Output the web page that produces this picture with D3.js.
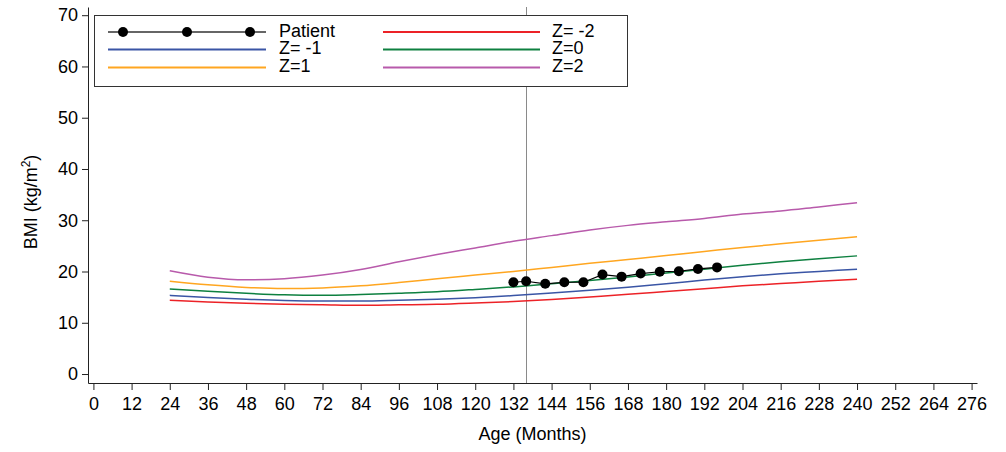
<!DOCTYPE html>
<html>
<head>
<meta charset="utf-8">
<script src="https://cdn.jsdelivr.net/npm/d3@7"></script>
<style>
  html, body { margin: 0; padding: 0; background: #fff; }
  svg { display: block; font-family: "Liberation Sans", Arial, sans-serif; }
</style>
</head>
<body>
<svg id="chart" width="1006" height="452"></svg>
<script>
// ---- Data ----
const refAges = [24, 36, 48, 60, 72, 84, 96, 108, 120, 132, 144, 156, 168, 180, 192, 204, 216, 228, 240];
const zMinus2 = [14.4, 14.05, 13.8, 13.6, 13.5, 13.4, 13.5, 13.6, 13.85, 14.15, 14.55, 15.05, 15.55, 16.1, 16.65, 17.2, 17.65, 18.1, 18.5];
const zMinus1 = [15.35, 14.95, 14.6, 14.35, 14.25, 14.25, 14.4, 14.6, 14.9, 15.3, 15.8, 16.35, 16.95, 17.6, 18.35, 19.0, 19.55, 20.0, 20.45];
const zZero   = [16.6, 16.15, 15.75, 15.45, 15.35, 15.5, 15.75, 16.05, 16.5, 17.0, 17.6, 18.25, 18.95, 19.7, 20.45, 21.2, 21.9, 22.5, 23.05];
const zPlus1  = [18.1, 17.4, 16.9, 16.7, 16.8, 17.2, 17.85, 18.6, 19.3, 20.0, 20.8, 21.6, 22.35, 23.1, 23.9, 24.7, 25.4, 26.1, 26.8];
const zPlus2  = [20.15, 18.9, 18.4, 18.6, 19.3, 20.4, 21.9, 23.3, 24.6, 25.9, 27.0, 28.1, 29.0, 29.7, 30.35, 31.2, 31.8, 32.6, 33.4];

const patientAges = [132, 136, 142, 148, 154, 160, 166, 172, 178, 184, 190, 196];
const patientBMI  = [17.9, 18.1, 17.6, 17.9, 17.9, 19.4, 19.0, 19.6, 19.95, 20.05, 20.5, 20.8];

const currentAge = 136;

const xTickLabels = d3.range(0, 277, 12);
const yTickLabels = d3.range(0, 71, 10);

const seriesNames  = ["Z= -2", "Z= -1", "Z=0", "Z=1", "Z=2"];
const seriesValues = [zMinus2, zMinus1, zZero, zPlus1, zPlus2];
const seriesColors = ["#ec2227", "#3a55a5", "#0e8040", "#ffa620", "#b85aab"];

// ---- Layout ----
const svg = d3.select("#chart");
const x = d3.scaleLinear().domain([-1.7, 277.7]).range([88, 977]);
const y = d3.scaleLinear().domain([-1.75, 71.6]).range([383, 7]);
const axisColor = "#222";

// axes
const gx = svg.append("g").attr("transform", "translate(0,383)");
gx.call(d3.axisBottom(x).tickValues(d3.range(6, 277, 12)).tickSize(4).tickSizeOuter(0).tickFormat(""));
gx.call(d3.axisBottom(x).tickValues(xTickLabels).tickSize(7).tickSizeOuter(0).tickPadding(7));
gx.selectAll("text").attr("font-size", 18).attr("fill", "#000").attr("font-family", "Liberation Sans, Arial, sans-serif");
gx.selectAll("path, line").attr("stroke", axisColor);

const gy = svg.append("g").attr("transform", "translate(88,0)");
gy.call(d3.axisLeft(y).tickValues(d3.range(0, 71, 2)).tickSize(3.5).tickSizeOuter(0).tickFormat(""));
gy.call(d3.axisLeft(y).tickValues(yTickLabels).tickSize(6).tickSizeOuter(0).tickPadding(4));
gy.selectAll("text").attr("font-size", 18).attr("fill", "#000").attr("font-family", "Liberation Sans, Arial, sans-serif");
gy.selectAll("path, line").attr("stroke", axisColor);

// axis titles
svg.append("text")
  .attr("x", (x.range()[0] + x.range()[1]) / 2).attr("y", 440)
  .attr("text-anchor", "middle").attr("font-size", 18).text("Age (Months)");

const yt = svg.append("text")
  .attr("transform", "translate(37,202) rotate(-90)")
  .attr("text-anchor", "middle").attr("font-size", 18);
yt.append("tspan").text("BMI (kg/m");
yt.append("tspan").attr("font-size", 12).attr("dy", -7).text("2");
yt.append("tspan").attr("dy", 7).text(")");

// current age vertical line
svg.append("line")
  .attr("x1", Math.round(x(currentAge)) + 0.5).attr("x2", Math.round(x(currentAge)) + 0.5)
  .attr("y1", y.range()[1]).attr("y2", y.range()[0])
  .attr("stroke", "#8a8a8a").attr("stroke-width", 1);

// reference curves
const line = d3.line().x(d => x(d[0])).y(d => y(d[1])).curve(d3.curveMonotoneX);
seriesValues.forEach((vals, i) => {
  svg.append("path")
    .datum(refAges.map((a, j) => [a, vals[j]]))
    .attr("d", line)
    .attr("fill", "none")
    .attr("stroke", seriesColors[i])
    .attr("stroke-width", 1.5);
});

// patient
const pdata = patientAges.map((a, j) => [a, patientBMI[j]]);
svg.append("path")
  .datum(pdata)
  .attr("d", d3.line().x(d => x(d[0])).y(d => y(d[1])))
  .attr("fill", "none").attr("stroke", "#000").attr("stroke-width", 1.2);
svg.selectAll("circle.pt").data(pdata).enter().append("circle")
  .attr("class", "pt")
  .attr("cx", d => x(d[0])).attr("cy", d => y(d[1])).attr("r", 5)
  .attr("fill", "#000");

// legend
const lg = svg.append("g");
lg.append("rect").attr("x", 94.5).attr("y", 15.5).attr("width", 533).attr("height", 71)
  .attr("fill", "#fff").attr("stroke", "#333").attr("stroke-width", 1);

const rowY = [32, 49.5, 67.5];
const colLine = [[108, 266], [383, 540]];
const colText = [279, 552];
const legendItems = [
  { name: "Patient", color: "#000", patient: true, col: 0, row: 0 },
  { name: seriesNames[0], color: seriesColors[0], col: 1, row: 0 },
  { name: seriesNames[1], color: seriesColors[1], col: 0, row: 1 },
  { name: seriesNames[2], color: seriesColors[2], col: 1, row: 1 },
  { name: seriesNames[3], color: seriesColors[3], col: 0, row: 2 },
  { name: seriesNames[4], color: seriesColors[4], col: 1, row: 2 }
];
legendItems.forEach(it => {
  const yy = rowY[it.row];
  const [x1, x2] = colLine[it.col];
  lg.append("line").attr("x1", x1).attr("x2", x2).attr("y1", yy).attr("y2", yy)
    .attr("stroke", it.patient ? "#333" : it.color).attr("stroke-width", it.patient ? 1.5 : 2.2);
  if (it.patient) {
    [123, 187, 250].forEach(cx => lg.append("circle").attr("cx", cx).attr("cy", yy).attr("r", 5).attr("fill", "#000"));
  }
  lg.append("text").attr("x", colText[it.col]).attr("y", yy + 4.5)
    .attr("font-size", 18).attr("fill", "#000").text(it.name);
});
</script>
</body>
</html>
